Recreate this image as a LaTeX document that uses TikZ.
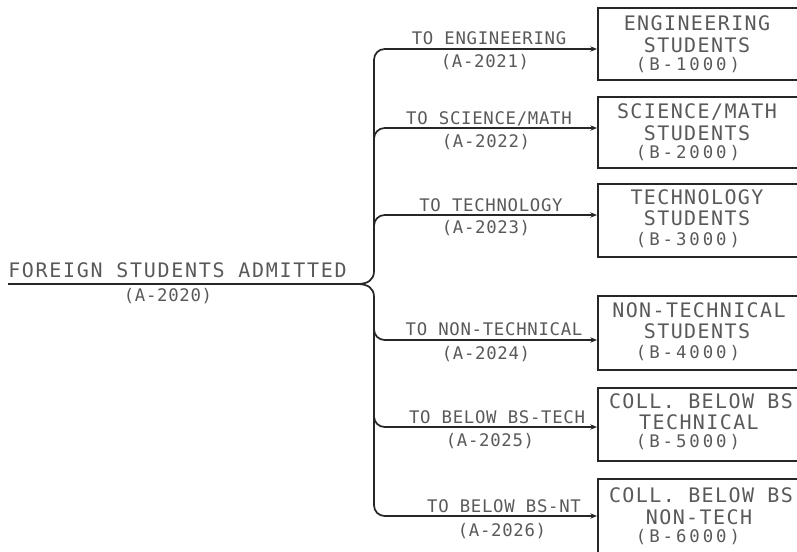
\documentclass[tikz,border=0pt]{standalone}
\usepackage{fontspec}
\usetikzlibrary{arrows.meta}
\newfontfamily\bigfnt[LetterSpace=7]{DejaVu Sans Mono}
\newfontfamily\mainfnt[LetterSpace=8.5]{DejaVu Sans Mono}
\newfontfamily\codefnt[LetterSpace=17]{DejaVu Sans Mono}
\newfontfamily\smallfnt[LetterSpace=4]{DejaVu Sans Mono}
\tikzset{
  ln/.style={line width=1.3pt, draw=black!85},
  arr/.style={-{Stealth[length=5pt,width=4pt]}},
  boxst/.style={draw=black!85, line width=1.3pt, rectangle, minimum width=170pt, inner sep=0pt, anchor=north west},
  bt/.style={font=\bigfnt\fontsize{15}{15}\selectfont, text=black!65, anchor=base, inner sep=0pt},
  ct/.style={font=\codefnt\fontsize{13}{13}\selectfont, text=black!65, anchor=base, inner sep=0pt},
  st/.style={font=\smallfnt\fontsize{13}{13}\selectfont, text=black!65, anchor=base, inner sep=0pt},
}
\begin{document}
\begin{tikzpicture}[x=0.75pt,y=-0.75pt]
\useasboundingbox (0,0) rectangle (797,551);
\clip (0,0) rectangle (797,551);

% boxes
\node[boxst, minimum height=54pt]    (b1) at (597,7) {};
\node[boxst, minimum height=53.25pt] (b2) at (597,96) {};
\node[boxst, minimum height=54.75pt] (b3) at (597,183) {};
\node[boxst, minimum height=55.5pt]  (b4) at (597,295) {};
\node[boxst, minimum height=54.75pt] (b5) at (597,387) {};
\node[boxst, minimum height=60pt]    (b6) at (597,478) {};

% box texts
\node[bt] (t1a) at (697,30) {ENGINEERING};
\node[bt] (t1b) at (697,52) {STUDENTS};
\node[ct] (t1c) at (688,70) {(B-1000)};
\node[bt] (t2a) at (697,118) {SCIENCE/MATH};
\node[bt] (t2b) at (697,140) {STUDENTS};
\node[ct] (t2c) at (688,158) {(B-2000)};
\node[bt] (t3a) at (697,204) {TECHNOLOGY};
\node[bt] (t3b) at (697,225) {STUDENTS};
\node[ct] (t3c) at (688,245) {(B-3000)};
\node[bt] (t4a) at (699,317) {NON-TECHNICAL};
\node[bt] (t4b) at (697,338) {STUDENTS};
\node[ct] (t4c) at (688,358) {(B-4000)};
\node[bt] (t5a) at (701,408) {COLL. BELOW BS};
\node[bt] (t5b) at (699,429) {TECHNICAL};
\node[ct] (t5c) at (688,447) {(B-5000)};
\node[bt] (t6a) at (701,502) {COLL. BELOW BS};
\node[bt] (t6b) at (699,524) {NON-TECH};
\node[ct] (t6c) at (688,542) {(B-6000)};

% source text
\node[bt, font=\mainfnt\fontsize{15}{15}\selectfont, anchor=base west] (src) at (8,277) {FOREIGN STUDENTS ADMITTED};
\node[st] (srcc) at (168,301) {(A-2020)};

% connector labels
\node[st] (l1a) at (489,44) {TO ENGINEERING};
\node[st] (l1b) at (485,67) {(A-2021)};
\node[st] (l2a) at (489,124) {TO SCIENCE/MATH};
\node[st] (l2b) at (486,147) {(A-2022)};
\node[st] (l3a) at (491,211) {TO TECHNOLOGY};
\node[st] (l3b) at (486,233) {(A-2023)};
\node[st] (l4a) at (494,335) {TO NON-TECHNICAL};
\node[st] (l4b) at (486,359) {(A-2024)};
\node[st] (l5a) at (497,423) {TO BELOW BS-TECH};
\node[st] (l5b) at (490,446) {(A-2025)};
\node[st] (l6a) at (504,512) {TO BELOW BS-NT};
\node[st] (l6b) at (502,536) {(A-2026)};

% connector geometry
\coordinate (s0) at (8,284);
\coordinate (jn) at (357,284);
\coordinate (y1) at (0,49);
\coordinate (y2) at (0,128);
\coordinate (y3) at (0,215);
\coordinate (y4) at (0,340);
\coordinate (y5) at (0,427);
\coordinate (y6) at (0,516);

\draw[ln] (s0) -- (jn);
% upper trunk to top branch
\draw[ln] (jn) .. controls (368,284) and (374,280) .. (374,271);
\draw[ln,arr,rounded corners=8pt] (374,271) |- (b1.west |- y1);
\draw[ln,arr,rounded corners=8pt] (374,140) |- (b2.west |- y2);
\draw[ln,arr,rounded corners=8pt] (374,227) |- (b3.west |- y3);
% lower trunk to bottom branch
\draw[ln] (jn) .. controls (368,284) and (374,288) .. (374,297);
\draw[ln,arr,rounded corners=8pt] (374,297) |- (b6.west |- y6);
\draw[ln,arr,rounded corners=8pt] (374,328) |- (b4.west |- y4);
\draw[ln,arr,rounded corners=8pt] (374,415) |- (b5.west |- y5);
\end{tikzpicture}
\end{document}
